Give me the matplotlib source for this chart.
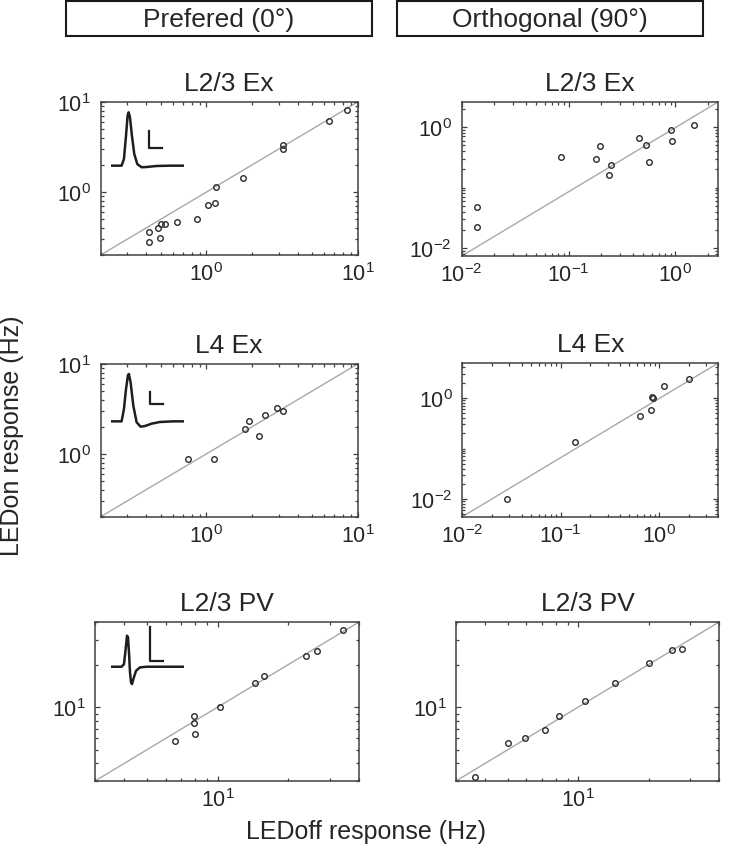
import matplotlib
matplotlib.use('Agg')
import matplotlib.pyplot as plt
from matplotlib.patches import Rectangle
from matplotlib.ticker import LogLocator, FixedLocator, NullFormatter

plt.rcParams['font.family'] = ['Liberation Sans', 'DejaVu Sans']
plt.rcParams['mathtext.fontset'] = 'custom'
plt.rcParams['mathtext.rm'] = 'Liberation Sans'
plt.rcParams['mathtext.it'] = 'Liberation Sans:italic'
plt.rcParams['mathtext.bf'] = 'Liberation Sans:bold'

#%% Данные (LEDoff / LEDon, Hz)

l23ex_pref_off = [8.5, 6.46, 3.2, 3.2, 1.74, 1.16, 1.135, 1.03, 0.86, 0.64, 0.53, 0.50, 0.48, 0.415, 0.415, 0.49]
l23ex_pref_on = [8.07, 6.09, 3.3, 3.03, 1.45, 1.15, 0.755, 0.72, 0.50, 0.47, 0.44, 0.44, 0.40, 0.36, 0.28, 0.31]

l23ex_orth_off = [0.014, 0.014, 0.085, 0.18, 0.197, 0.247, 0.238, 0.454, 0.525, 0.57, 0.91, 0.92, 1.5]
l23ex_orth_on = [0.047, 0.0225, 0.315, 0.30, 0.485, 0.235, 0.161, 0.658, 0.497, 0.26, 0.91, 0.587, 1.09]

l4ex_pref_off = [0.75, 1.13, 1.81, 1.9, 2.22, 2.44, 2.94, 3.2]
l4ex_pref_on = [0.88, 0.87, 1.91, 2.34, 1.58, 2.69, 3.24, 3.03]

l4ex_orth_off = [0.0285, 0.14, 0.646, 0.824, 0.85, 0.87, 1.12, 2.0]
l4ex_orth_on = [0.01, 0.133, 0.434, 0.57, 1.05, 1.01, 1.73, 2.38]

l23pv_pref_off = [34.2, 26.4, 23.7, 15.8, 14.4, 10.2, 7.9, 7.9, 8.0, 6.58]
l23pv_pref_on = [35.2, 24.8, 23.0, 16.5, 14.8, 10.0, 8.6, 7.66, 6.45, 5.77]

l23pv_orth_off = [3.63, 5.03, 5.9, 7.2, 8.3, 10.7, 14.4, 20.0, 25.1, 27.7]
l23pv_orth_on = [3.2, 5.53, 6.0, 6.87, 8.6, 11.1, 14.8, 20.6, 25.4, 25.8]

# формы спайков (нормированное время / амплитуда)
ex23_wave_t = [0, 0.145, 0.177, 0.205, 0.227, 0.241, 0.259, 0.286, 0.318, 0.359, 0.418, 0.486, 0.623, 0.805, 1.0]
ex23_wave_v = [0, 0, 0.125, 0.56, 0.94, 1.0, 0.91, 0.56, 0.22, 0.03, -0.03, -0.025, -0.006, 0, 0]
ex4_wave_t = [0, 0.145, 0.177, 0.205, 0.232, 0.245, 0.268, 0.305, 0.35, 0.405, 0.464, 0.555, 0.668, 0.85, 1.0]
ex4_wave_v = [0, 0, 0.26, 0.68, 0.98, 1.0, 0.82, 0.33, -0.02, -0.113, -0.099, -0.049, -0.014, 0, 0]
pv_wave_t = [0, 0.145, 0.177, 0.2, 0.218, 0.232, 0.245, 0.259, 0.273, 0.286, 0.305, 0.341, 0.395, 0.486, 1.0]
pv_wave_v = [0, 0, 0.084, 0.558, 0.979, 0.926, 0.453, -0.179, -0.495, -0.547, -0.389, -0.126, -0.021, 0, 0]

titles = ['L2/3 Ex', 'L4 Ex', 'L2/3 PV']
headers = ['Prefered (0°)', 'Orthogonal (90°)']

W, H = 732, 853
fig = plt.figure(figsize=(W / 100, H / 100), dpi=100)
fg = '#262626'


def px_axes(x0, y0, x1, y1):
    # пиксели картинки -> координаты фигуры
    return fig.add_axes([x0 / W, 1 - y1 / H, (x1 - x0) / W, (y1 - y0) / H])


def style(ax, lims_x, lims_y, ymajor=None):
    ax.set_xscale('log')
    ax.set_yscale('log')
    ax.set_xlim(lims_x)
    ax.set_ylim(lims_y)
    # линия единичного отклика, от угла до угла
    ax.plot(lims_x, lims_y, color='#a8a8a8', lw=1.0, zorder=1)
    if ymajor is not None:
        ax.yaxis.set_major_locator(FixedLocator(ymajor))
    ax.xaxis.set_minor_locator(LogLocator(base=10, subs=range(1, 10), numticks=20))
    ax.yaxis.set_minor_locator(LogLocator(base=10, subs=range(1, 10), numticks=20))
    ax.xaxis.set_minor_formatter(NullFormatter())
    ax.yaxis.set_minor_formatter(NullFormatter())
    ax.tick_params(which='both', direction='in', top=True, right=True, colors='#404040', width=0.9,
                   labelcolor=fg, labelsize=15.5)
    ax.tick_params(which='major', length=3.6)
    ax.tick_params(which='minor', length=2.4)
    ax.tick_params(axis='y', pad=7)
    ax.tick_params(axis='x', pad=5)
    for s in ax.spines.values():
        s.set_color('#404040')
        s.set_linewidth(1.1)


def dots(ax, x, y):
    ax.plot(x, y, 'o', ms=4.0, mfc='none', mec='#2a2a2a', mew=1.0, zorder=3)


def spike(ax, bounds, t, v, ylim, bar_t, bar_v):
    ins = ax.inset_axes(bounds)
    ins.plot(t, v, color='#1e1e1e', lw=1.8)
    ins.plot([bar_t[0], bar_t[0], bar_t[1]], [bar_v[1], bar_v[0], bar_v[0]], color='#1e1e1e', lw=1.6)
    ins.set_xlim(0, 1)
    ins.set_ylim(ylim)
    ins.axis('off')


#%% L2/3 Ex
ax1 = px_axes(100.7, 103, 357.7, 256)
style(ax1, (0.2, 10), (0.2, 10))
dots(ax1, l23ex_pref_off, l23ex_pref_on)
ax1.set_title(titles[0], fontsize=19, pad=8.6, color=fg)
spike(ax1, [0.04, 0.549, 0.285, 0.401], ex23_wave_t, ex23_wave_v, (-0.1, 1.05), (0.518, 0.70), (0.325, 0.656))

ax2 = px_axes(461.7, 103, 718, 257)
style(ax2, (0.01, 2.5), (0.0074, 2.6), ymajor=[1e-2, 1e0])
dots(ax2, l23ex_orth_off, l23ex_orth_on)
ax2.set_title(titles[0], fontsize=19, pad=8.6, color=fg)

#%% L4 Ex
ax3 = px_axes(100.7, 365, 357.7, 517.7)
style(ax3, (0.2, 10), (0.2, 10))
dots(ax3, l4ex_pref_off, l4ex_pref_on)
ax3.set_title(titles[1], fontsize=19, pad=8.6, color=fg)
spike(ax3, [0.04, 0.5625, 0.285, 0.3875], ex4_wave_t, ex4_wave_v, (-0.2, 1.05), (0.532, 0.705), (0.359, 0.627))

ax4 = px_axes(462.3, 364, 718.3, 517.7)
style(ax4, (0.01, 4.0), (0.0045, 4.9), ymajor=[1e-2, 1e0])
dots(ax4, l4ex_orth_off, l4ex_orth_on)
ax4.set_title(titles[1], fontsize=19, pad=8.6, color=fg)

#%% L2/3 PV
ax5 = px_axes(95, 623, 359, 782)
style(ax5, (3, 40), (3, 40))
dots(ax5, l23pv_pref_off, l23pv_pref_on)
ax5.set_title(titles[2], fontsize=19, pad=8.6, color=fg)
spike(ax5, [0.0606, 0.589, 0.278, 0.389], pv_wave_t, pv_wave_v, (-0.65, 1.3), (0.532, 0.705), (0.19, 1.242))

ax6 = px_axes(456, 623, 719, 782)
style(ax6, (3, 40), (3, 40))
dots(ax6, l23pv_orth_off, l23pv_orth_on)
ax6.set_title(titles[2], fontsize=19, pad=8.6, color=fg)

#%% Заголовки колонок и подписи осей
for (x0, x1), text in zip([(65.7, 372.3), (397, 703)], headers):
    fig.patches.append(Rectangle((x0 / W, 1 - 37 / H), (x1 - x0) / W, 35.5 / H, transform=fig.transFigure,
                                 fill=False, edgecolor='#1a1a1a', lw=1.5))
    fig.text((x0 + x1) / 2 / W, 1 - 19.5 / H, text, ha='center', va='center', fontsize=19, color=fg)

fig.text(366 / W, 1 - 832 / H, 'LEDoff response (Hz)', ha='center', va='center', fontsize=18, color=fg)
fig.text(12 / W, 1 - 436 / H, 'LEDon response (Hz)', ha='center', va='center', rotation=90, fontsize=18, color=fg)

fig.savefig('out.png', dpi=100)
plt.close(fig)
